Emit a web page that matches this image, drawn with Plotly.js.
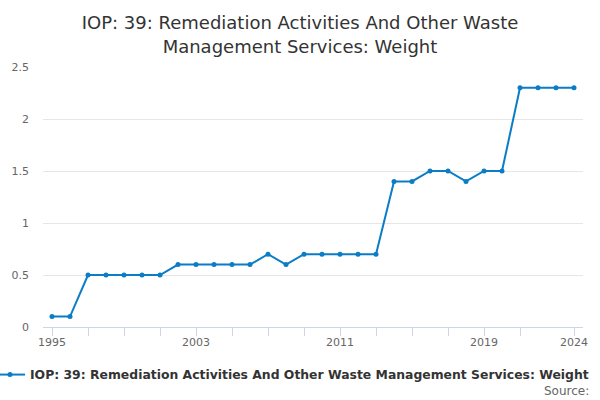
<!DOCTYPE html>
<html>
<head>
<meta charset="utf-8">
<script src="https://cdn.plot.ly/plotly-3.0.1.min.js"></script>
<style>
  html, body { margin: 0; padding: 0; background: #fff; }
  #chart { width: 600px; height: 400px; }
</style>
</head>
<body>
<div id="chart"></div>
<script>
// ─── data ──────────────────────────────────────────────────
var years = [1995, 1996, 1997, 1998, 1999, 2000, 2001, 2002, 2003, 2004,
             2005, 2006, 2007, 2008, 2009, 2010, 2011, 2012, 2013, 2014,
             2015, 2016, 2017, 2018, 2019, 2020, 2021, 2022, 2023, 2024];
var weights = [0.1, 0.1, 0.5, 0.5, 0.5, 0.5, 0.5, 0.6, 0.6, 0.6,
               0.6, 0.6, 0.7, 0.6, 0.7, 0.7, 0.7, 0.7, 0.7, 1.4,
               1.4, 1.5, 1.5, 1.4, 1.5, 1.5, 2.3, 2.3, 2.3, 2.3];
var tickYears = [1995, 1997, 1999, 2001, 2003, 2005, 2007, 2009, 2011, 2013,
                 2015, 2017, 2019, 2021, 2024];
var labelYears = [1995, 2003, 2011, 2019, 2024];
var seriesName = 'IOP: 39: Remediation Activities And Other Waste Management Services: Weight';

var FONT = 'DejaVu Sans, Verdana, sans-serif';
var lineColor = '#0a7dc6';

// only every 8th year (and the last) gets a label, the rest are bare ticks
var ticktext = tickYears.map(function (y) {
  return labelYears.indexOf(y) >= 0 ? String(y) : '';
});

var trace = {
  type: 'scatter', mode: 'lines+markers', name: seriesName,
  x: years, y: weights,
  line: { color: lineColor, width: 2 },
  marker: { color: lineColor, size: 5 },
  hovertemplate: '%{x}: %{y}<extra></extra>'
};

var layout = {
  width: 600, height: 400,
  margin: { l: 43, r: 17, t: 67, b: 73, autoexpand: false },
  paper_bgcolor: '#fff', plot_bgcolor: '#fff',
  font: { family: FONT, color: '#666', size: 11 },
  title: {
    text: 'IOP: 39: Remediation Activities And Other Waste<br>Management Services: Weight',
    font: { family: FONT, size: 18, color: '#333' },
    x: 0.5, xanchor: 'center', yref: 'container', y: 0.927, yanchor: 'middle'
  },
  xaxis: {
    range: [1994.5, 2024.5],
    tickmode: 'array', tickvals: tickYears, ticktext: ticktext,
    ticks: 'outside', ticklen: 8, tickcolor: '#ccd6eb', tickwidth: 1,
    showline: true, linecolor: '#ccd6eb', linewidth: 1,
    showgrid: false, zeroline: false,
    tickfont: { family: FONT, size: 11, color: '#666' },
    ticklabelstandoff: -3
  },
  yaxis: {
    range: [0, 2.5], dtick: 0.5,
    showgrid: true, gridcolor: '#e6e6e6', gridwidth: 1,
    zeroline: false, showline: false,
    tickfont: { family: FONT, size: 11, color: '#666' },
    ticklabelstandoff: 13
  },
  showlegend: true,
  legend: {
    orientation: 'h', x: -10 / 540 - 43 / 540, xanchor: 'left', y: -0.127, yanchor: 'top',
    font: { family: FONT, size: 12.4, color: '#333', weight: 'bold' }
  },
  annotations: [{
    text: 'Source:', xref: 'paper', yref: 'paper',
    x: 1.015, xanchor: 'right', y: -0.212, yanchor: 'top',
    showarrow: false, font: { family: FONT, size: 12, color: '#666' }
  }]
};

Plotly.newPlot('chart', [trace], layout, { displayModeBar: false, staticPlot: true });
</script>
</body>
</html>
